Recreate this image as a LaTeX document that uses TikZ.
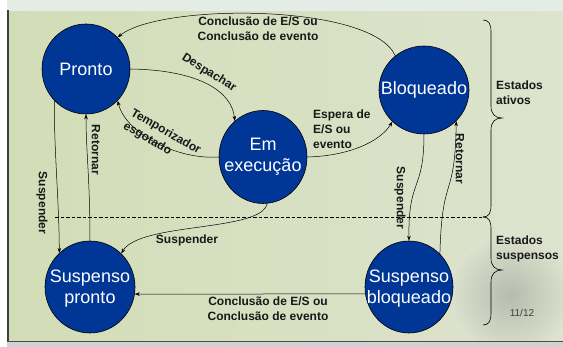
\documentclass[tikz,border=0pt]{standalone}
\usepackage{fontspec}
\setmainfont{Liberation Sans}
\usetikzlibrary{shapes.geometric,arrows.meta}

\definecolor{stateblue}{RGB}{0,54,150}
\definecolor{bgleft}{RGB}{210,221,182}
\definecolor{bgright}{RGB}{221,227,206}
\definecolor{topstrip}{RGB}{228,236,230}
\definecolor{labelink}{RGB}{25,25,25}

\begin{document}
\begin{tikzpicture}[x=1pt,y=-1pt,
  state/.style={ellipse, draw=black, line width=0.6pt, fill=stateblue, inner sep=0pt},
  stxt/.style={text=white, align=center, inner sep=0pt, font=\fontsize{18}{21}\selectfont},
  lbl/.style={font=\bfseries\fontsize{12}{15}\selectfont, inner sep=0pt, text=labelink},
  conn/.style={-{Stealth[length=5pt,width=3.6pt]}, line width=0.5pt, draw=black},
  bracepath/.style={line width=0.6pt, draw=black}
]
\useasboundingbox (0,0) rectangle (563,347);
% background
\shade[left color=bgleft, right color=bgright] (0,0) rectangle (563,347);
\shade[inner color=gray!40!bgright, outer color=bgright] (510,295) circle (62pt);
\fill[topstrip] (0,0) rectangle (563,11);
\fill[white] (0,0) rectangle (7,347);
\fill[black!75] (7,10) rectangle (9,347);
\fill[gray!35] (7,342) rectangle (563,347);
\draw[gray!60!black, line width=1pt] (7,342) -- (563,342);

% states
\node[state, minimum width=88pt, minimum height=90pt,
      label={[stxt]center:Pronto}] (pronto) at (86,69) {};
\node[state, minimum width=90pt, minimum height=88pt,
      label={[stxt]center:Bloqueado}] (bloq) at (424,90) {};
\node[state, minimum width=88pt, minimum height=93pt,
      label={[stxt]center:Em\\execução}] (emexec) at (263,157) {};
\node[state, minimum width=90pt, minimum height=92pt,
      label={[stxt, yshift=-2pt]center:Suspenso\\pronto}] (suspr) at (90,287) {};
\node[state, minimum width=88pt, minimum height=92pt,
      label={[stxt, yshift=-2pt]center:Suspenso\\bloqueado}] (susbl) at (409,287) {};

% dashed separator
\coordinate (dashL) at (55,217);
\coordinate (dashR) at (483,217);
\draw[dash pattern=on 3.5pt off 2pt, line width=0.6pt] (dashL) -- (dashR);

% braces
\draw[bracepath] (483,20) .. controls (489,20) and (491,24) .. (491,32)
  -- (491,106) .. controls (491,114) and (495,118) .. (502,118)
  .. controls (495,118) and (491,122) .. (491,130)
  -- (491,205) .. controls (491,213) and (489,217) .. (483,217);
\draw[bracepath] (483,217) .. controls (489,217) and (491,221) .. (491,229)
  -- (491,258) .. controls (491,266) and (495,270) .. (502,270)
  .. controls (495,270) and (491,274) .. (491,282)
  -- (491,313) .. controls (491,321) and (489,325) .. (483,325);

% connectors
\draw[conn] (bloq.130) .. controls (372,3) and (160,3) .. (pronto.45);
\draw[conn] (pronto.east) .. controls (200,70) and (232,92) .. (emexec.128);
\draw[conn] (emexec.west) .. controls (175,160) and (125,132) .. (pronto.-45);
\draw[conn] (emexec.east) .. controls (348,156) and (380,142) .. (bloq.-135);
\draw[conn] (bloq.south) .. controls (424,192) and (408,178) .. (susbl.north);
\draw[conn] (susbl.47) .. controls (442,172) and (455,202) .. (bloq.-44);
\draw[conn] (pronto.-135) .. controls (54,150) and (59,200) .. (suspr.132);
\draw[conn] (suspr.north) .. controls (90,180) and (86,150) .. (pronto.south);
\draw[conn] (emexec.-85) .. controls (262,232) and (140,222) .. (suspr.47);
\draw[conn] (susbl.189) -- (suspr.-9);

% connector labels
\node[lbl, align=center] (lTop) at (258,28.5) {Conclusão de E/S ou\\Conclusão de evento};
\node[lbl, rotate=-32] (lDesp) at (209,73) {Despachar};
\node[lbl, rotate=-30, align=left] (lTemp) at (162,138.5) {Temporizador\\esgotado};
\node[lbl, align=left, anchor=west] (lEsp) at (313,129.5) {Espera de\\E/S ou\\evento};
\node[lbl, rotate=-90] (lSusR) at (400,198) {Suspender};
\node[lbl, rotate=-90] (lRetR) at (460,159) {Retornar};
\node[lbl, rotate=-90] (lSusL) at (42,203) {Suspender};
\node[lbl, rotate=-90] (lRetL) at (96,150) {Retornar};
\node[lbl] (lSusM) at (187,240.5) {Suspender};
\node[lbl, align=center] (lBot) at (268,309) {Conclusão de E/S ou\\Conclusão de evento};

% brace labels
\node[lbl, align=left, anchor=west] (lAtivos) at (496,93) {Estados\\ativos};
\node[lbl, align=left, anchor=west] (lSusp) at (496,249) {Estados\\suspensos};
\node[font=\fontsize{10}{12}\selectfont, text=black!75, inner sep=0pt] (lPage) at (522,313) {11/12};
\end{tikzpicture}
\end{document}
